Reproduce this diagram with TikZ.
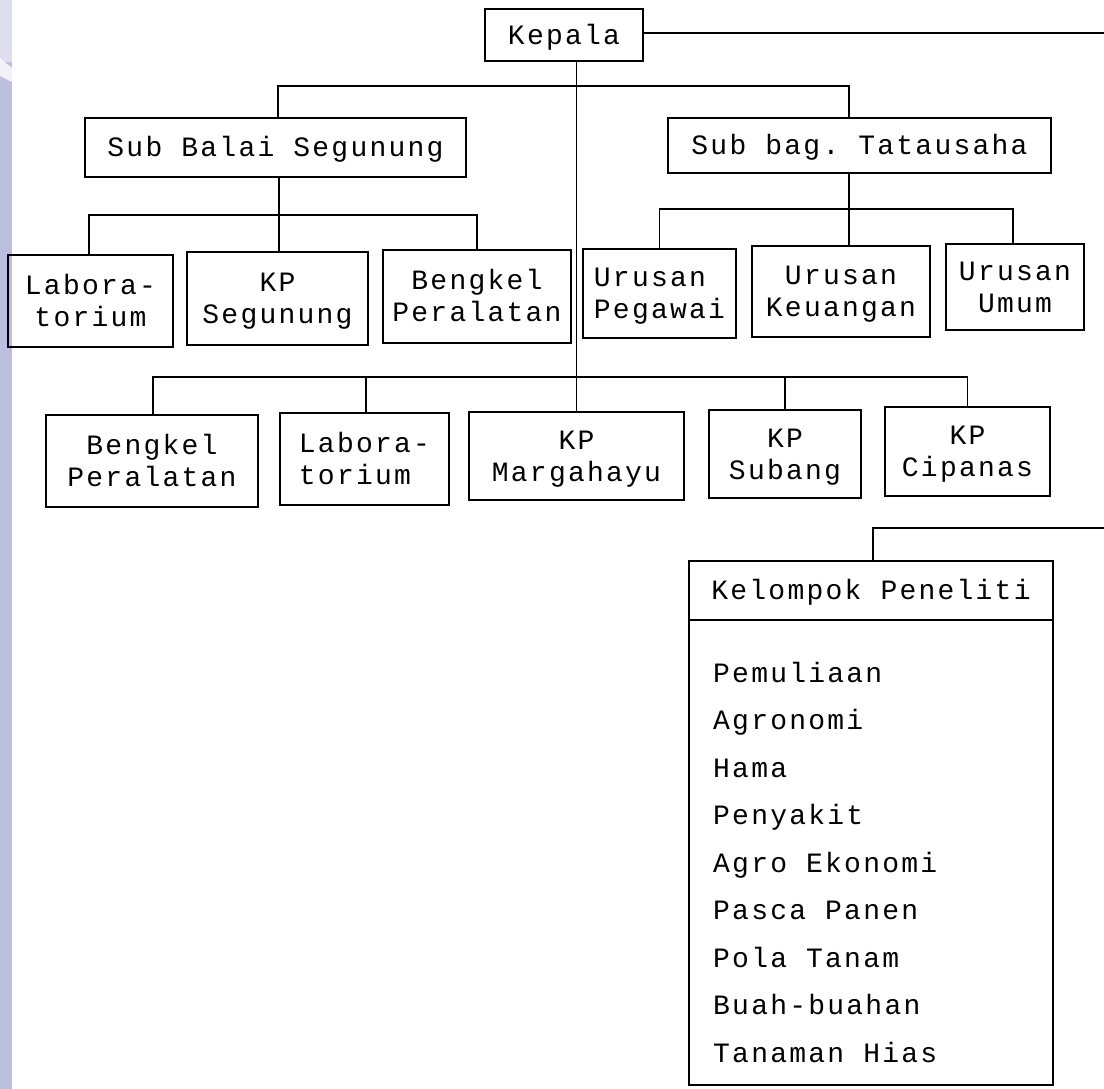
\documentclass[tikz,border=0pt]{standalone}
\usepackage{fontspec}
\setmonofont{Liberation Mono}[LetterSpace=8]
\definecolor{strip}{HTML}{BBBEDC}
\definecolor{striplight}{HTML}{DEDEEE}
\definecolor{stripwhite}{HTML}{F2F2F8}
\tikzset{
  bx/.style={draw, line width=2.2pt, inner sep=0pt, outer sep=0pt,
    font=\ttfamily\fontsize{28}{32}\selectfont, align=center,
    text height=18.5pt, text depth=0pt},
  two/.style={text height=50.5pt, text depth=0pt},
  item/.style={inner sep=0pt, anchor=base west,
    font=\ttfamily\fontsize{28}{32}\selectfont},
  conn/.style={line width=1.8pt, line cap=rect}
}
\newcommand\mkbox[7][]{\node[bx,#1, minimum width={#5-#3}, minimum height={#6-#4}] (#2) at ({(#3+#5)/2},{-(#4+#6)/2}) {#7};}
\begin{document}
\begin{tikzpicture}[x=1pt,y=1pt]
\useasboundingbox (0,0) rectangle (1104,-1089);
\fill[white] (0,0) rectangle (1104,-1089);
% left scanner strip
\fill[strip] (0,0) rectangle (12,-1089);
\fill[striplight] (0,0) rectangle (12,-62);
\fill[stripwhite] (0,-58) -- (12,-68) -- (12,-82) -- (0,-76) -- cycle;

% boxes
\mkbox{kep}{485}{9}{643}{61}{Kepala}
\mkbox{sbs}{85}{118}{466}{177}{Sub Balai Segunung}
\mkbox{sbt}{668}{118}{1051}{173}{Sub bag. Tatausaha}
\mkbox[two]{lab1}{8}{255}{173}{347}{Labora-\\torium}
\mkbox[two]{kps}{187}{252}{368}{345}{KP\\Segunung}
\mkbox[two]{ben1}{383}{250}{571}{343}{Bengkel\\Peralatan}
\mkbox[two,align=left]{peg}{583}{249}{736}{338}{Urusan\\Pegawai}
\mkbox[two]{keu}{752}{246}{930}{337}{Urusan\\Keuangan}
\mkbox[two]{umu}{946}{244}{1084}{330}{Urusan\\Umum}
\mkbox[two]{ben2}{46}{415}{258}{507}{Bengkel\\Peralatan}
\mkbox[two,align=left]{lab2}{280}{413}{449}{505}{Labora-\\torium}
\mkbox[two]{mar}{469}{412}{684}{500}{KP\\Margahayu}
\mkbox[two]{sub}{709}{410}{861}{498}{KP\\Subang}
\mkbox[two]{cip}{885}{407}{1050}{496}{KP\\Cipanas}
\mkbox{kph}{689}{561}{1053}{620}{Kelompok Peneliti}
\mkbox{kpb}{689}{620}{1053}{1085}{}

% list items
\foreach \t [count=\i from 0] in {Pemuliaan,Agronomi,Hama,Penyakit,Agro Ekonomi,Pasca Panen,Pola Tanam,Buah-buahan,Tanaman Hias}
  \node[item] (it\i) at (713,{-682-47.5*\i}) {\t};

% bus coordinates
\coordinate (b1) at (0,-86);
\coordinate (b2) at (0,-215);
\coordinate (b3) at (0,-209);
\coordinate (b4) at (0,-377);
\coordinate (kend1) at (1104,-33);
\coordinate (kend2) at (1104,-528);

% connectors
\draw[conn] (kep.east |- kend1) -- (kend1);
\draw[conn] (kep.south -| mar.north) -- (mar.north);
\draw[conn] ([xshift=2.5pt]sbs.north) -- ([xshift=2.5pt]sbs.north |- b1)
  -- ([xshift=-10.5pt]sbt.north |- b1) -- ([xshift=-10.5pt]sbt.north);
% Sub Balai children
\draw[conn] ([xshift=1.5pt]kps.north |- sbs.south) -- ([xshift=1.5pt]kps.north);
\draw[conn] ([xshift=-1.5pt]lab1.north) -- ([xshift=-1.5pt]lab1.north |- b2)
  -- (ben1.north |- b2) -- (ben1.north);
% Sub bag children
\draw[conn] ([xshift=-10.5pt]sbt.south) -- ([xshift=-10.5pt]sbt.south |- keu.north);
\draw[conn] (peg.north) -- (peg.north |- b3) -- ([xshift=-2pt]umu.north |- b3)
  -- ([xshift=-2pt]umu.north);
% third row
\draw[conn] ([xshift=1pt]ben2.north) -- ([xshift=1pt]ben2.north |- b4)
  -- (cip.north |- b4) -- (cip.north);
\draw[conn] ([xshift=1.5pt]lab2.north) -- ([xshift=1.5pt]lab2.north |- b4);
\draw[conn] (sub.north) -- (sub.north |- b4);
% Kelompok Peneliti
\draw[conn] ([xshift=2pt]kph.north) |- (kend2);
\end{tikzpicture}
\end{document}
